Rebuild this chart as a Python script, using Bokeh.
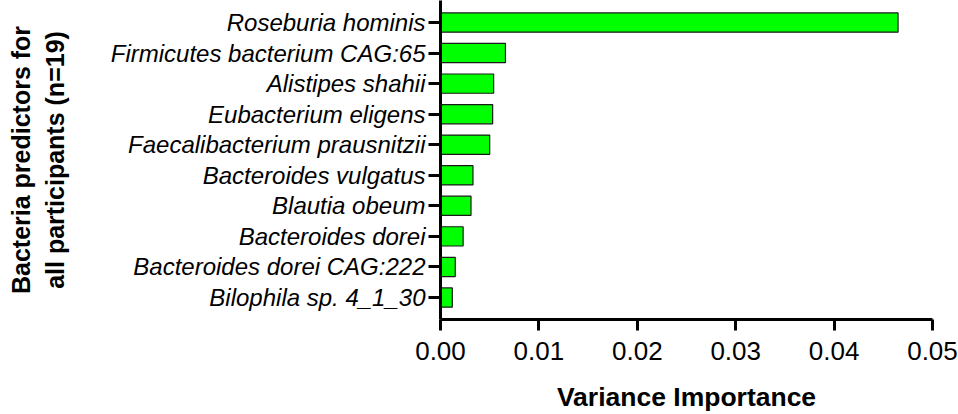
from bokeh.plotting import figure
from bokeh.models import FactorRange, Range1d, FixedTicker, ColumnDataSource
from bokeh.embed import file_html
from bokeh.resources import INLINE

species = [
    "Roseburia hominis",
    "Firmicutes bacterium CAG:65",
    "Alistipes shahii",
    "Eubacterium eligens",
    "Faecalibacterium prausnitzii",
    "Bacteroides vulgatus",
    "Blautia obeum",
    "Bacteroides dorei",
    "Bacteroides dorei CAG:222",
    "Bilophila sp. 4_1_30",
]
importance = [0.0465, 0.0066, 0.0054, 0.0053, 0.0050, 0.0033, 0.0031, 0.0023, 0.0015, 0.0012]
x_ticks = [0.0, 0.01, 0.02, 0.03, 0.04, 0.05]
x_tick_labels = ["0.00", "0.01", "0.02", "0.03", "0.04", "0.05"]

FONT = "Liberation Sans"

source = ColumnDataSource(data=dict(species=species, importance=importance))

p = figure(
    width=958, height=414,
    y_range=FactorRange(factors=list(reversed(species)), range_padding=0.22,
                        range_padding_units="absolute"),
    x_range=Range1d(0, 0.05),
    output_backend="svg", toolbar_location=None,
    min_border_left=440, min_border_right=26, min_border_top=0, min_border_bottom=89,
    margin=(0, 0, 0, 0),
)

p.hbar(y="species", right="importance", left=0, height=0.63, source=source,
       fill_color="#00FF00", line_color="#1a1a1a", line_width=1.2)

p.outline_line_color = None
p.grid.visible = False
p.background_fill_color = "white"
p.border_fill_color = "white"

xa = p.xaxis[0]
xa.ticker = FixedTicker(ticks=x_ticks)
xa.major_label_overrides = {t: l for t, l in zip(x_ticks, x_tick_labels)}
xa.minor_tick_line_color = None
xa.axis_line_width = 3
xa.axis_line_color = "black"
xa.major_tick_line_width = 3
xa.major_tick_line_color = "black"
xa.major_tick_out = 11
xa.major_tick_in = 0
xa.major_label_standoff = 11
xa.major_label_text_font = FONT
xa.major_label_text_font_size = "26px"
xa.major_label_text_color = "black"
xa.axis_label = "Variance Importance"
xa.axis_label_text_font = FONT
xa.axis_label_text_font_style = "bold"
xa.axis_label_text_font_size = "26.5px"
xa.axis_label_text_color = "black"
xa.axis_label_standoff = 19

ya = p.yaxis[0]
ya.axis_line_width = 3
ya.axis_line_color = "black"
ya.major_tick_line_width = 3
ya.major_tick_line_color = "black"
ya.major_tick_out = 12
ya.major_tick_in = 0
ya.major_label_standoff = 3
ya.major_label_text_font = FONT
ya.major_label_text_font_style = "italic"
ya.major_label_text_font_size = "24px"
ya.major_label_text_color = "black"
ya.axis_label = "Bacteria predictors for\nall participants (n=19)"
ya.axis_label_text_font = FONT
ya.axis_label_text_font_style = "bold"
ya.axis_label_text_font_size = "25px"
ya.axis_label_text_color = "black"
ya.axis_label_standoff = 39

open("out.html", "w").write(file_html(p, INLINE))
